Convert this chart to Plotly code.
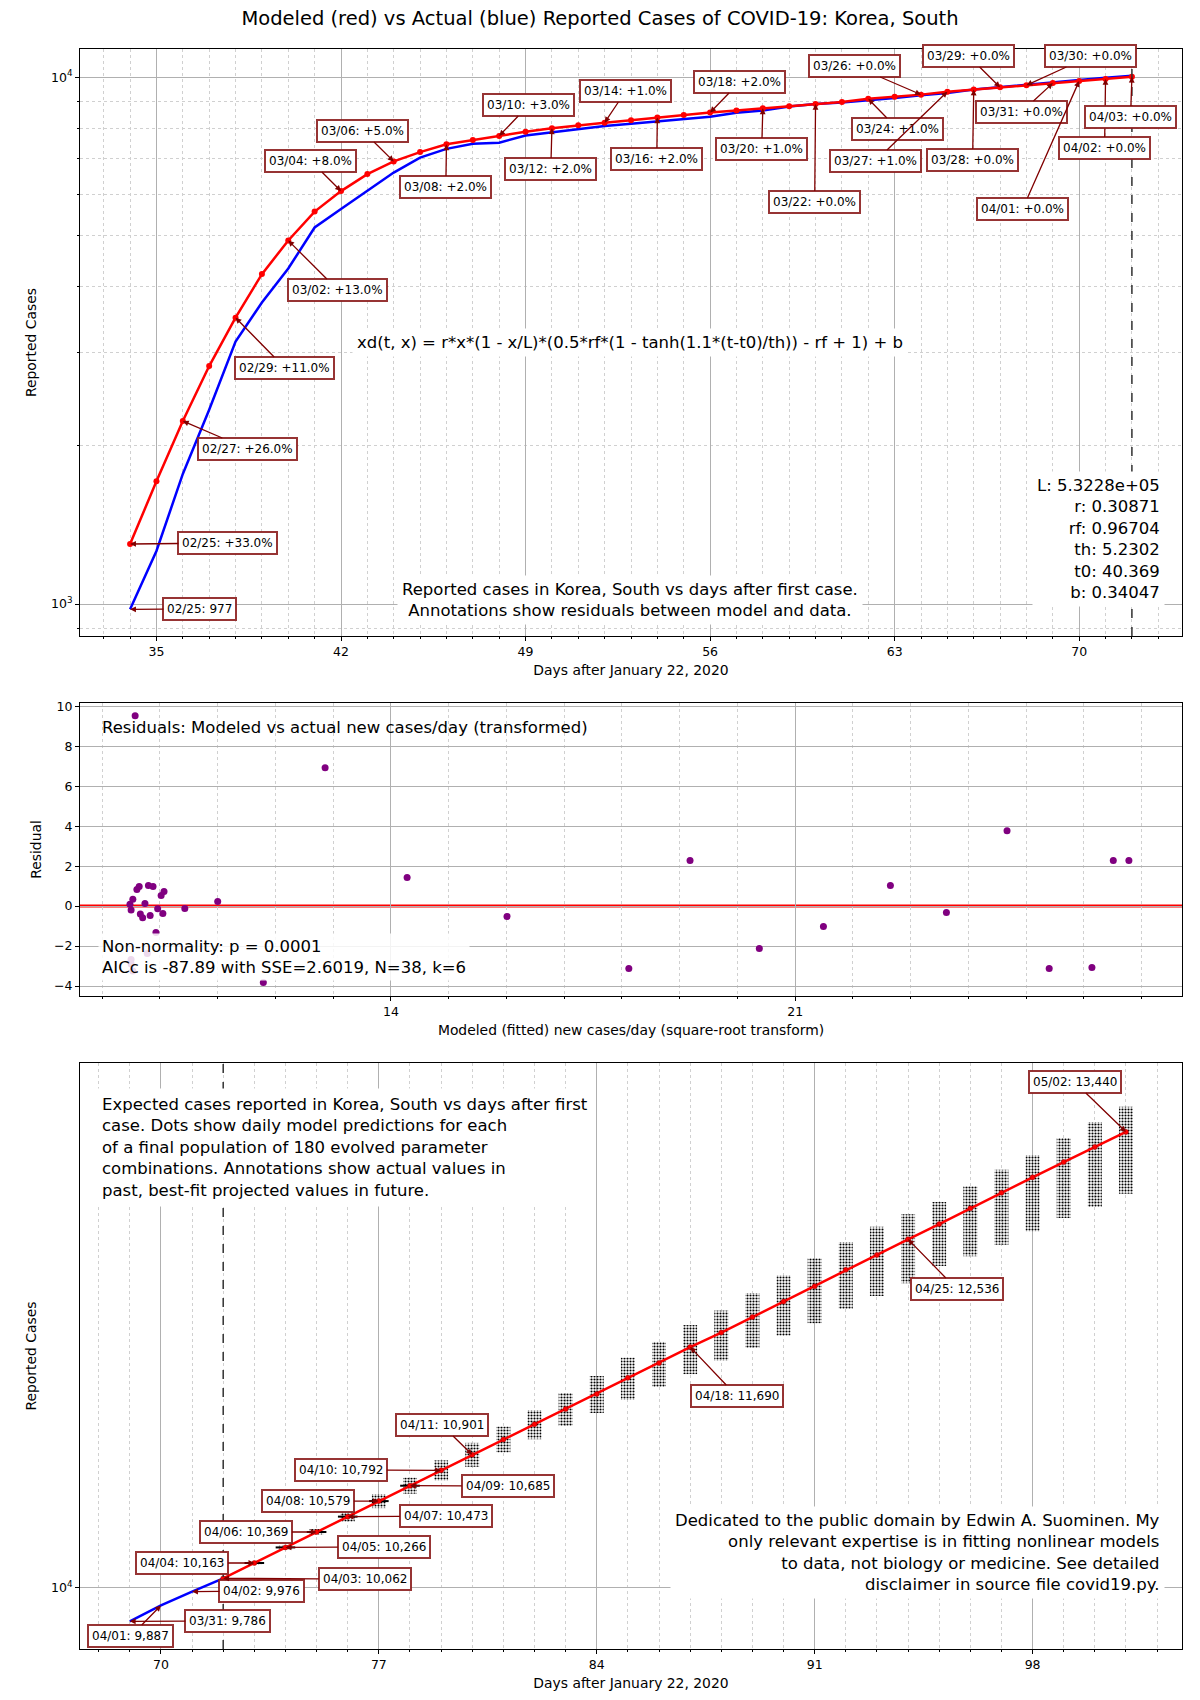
import numpy as np
import plotly.graph_objects as go

# ---------------- data ----------------
fit_days = list(range(34, 73))  # days after Jan 22, 2020 (02/25 .. 04/03)
actual_cases = [977, 1261, 1766, 2337, 3150, 3736, 4335, 5186, 5621, 6088,
                6593, 7041, 7314, 7478, 7513, 7755, 7869, 7979, 8086, 8162,
                8236, 8320, 8413, 8565, 8652, 8799, 8897, 8961, 9037, 9137,
                9241, 9332, 9478, 9583, 9661, 9786, 9887, 9976, 10062]
modeled_cases = [1300, 1710, 2225, 2830, 3497, 4230, 4899, 5560, 6080, 6550,
                 6923, 7210, 7460, 7600, 7740, 7880, 8000, 8110, 8200, 8290,
                 8390, 8480, 8570, 8650, 8730, 8810, 8900, 8980, 9100, 9180,
                 9270, 9390, 9480, 9570, 9660, 9750, 9840, 9930, 10020]

# top-chart annotations: day, which series ('a' actual / 'm' model), text
top_ann_days = [34, 34, 36, 38, 40, 42, 44, 46, 48, 50, 52, 54, 56, 58, 60,
                62, 64, 65, 66, 67, 68, 69, 70, 71, 72]
top_ann_series = ['a'] + ['m'] * 24
top_ann_text = ["02/25: 977", "02/25: +33.0%", "02/27: +26.0%", "02/29: +11.0%",
                "03/02: +13.0%", "03/04: +8.0%", "03/06: +5.0%", "03/08: +2.0%",
                "03/10: +3.0%", "03/12: +2.0%", "03/14: +1.0%", "03/16: +2.0%",
                "03/18: +2.0%", "03/20: +1.0%", "03/22: +0.0%", "03/24: +1.0%",
                "03/26: +0.0%", "03/27: +1.0%", "03/28: +0.0%", "03/29: +0.0%",
                "03/30: +0.0%", "03/31: +0.0%", "04/01: +0.0%", "04/02: +0.0%",
                "04/03: +0.0%"]

# residuals (middle chart)
res_x = [9.57, 12.86, 14.28, 16.01, 11.79, 11.00, 10.43, 9.48, 9.53, 9.50,
         9.60, 9.64, 9.80, 9.88, 9.74, 9.66, 9.70, 9.83, 9.96, 10.05,
         10.02, 10.07, 9.93, 9.78, 9.50, 9.50, 9.53, 18.12, 19.18, 20.38,
         21.49, 22.65, 23.62, 24.67, 25.40, 26.14, 26.51, 26.78]
res_y = [9.53, 6.93, 1.43, -0.52, -3.82, 0.23, -0.12, 0.10, 0.35, -0.20,
         0.83, 0.98, 1.03, 0.98, 0.13, -0.40, -0.58, -0.47, -0.13, -0.37,
         0.53, 0.73, -1.32, -2.37, -2.67, -2.90, -3.25, -3.12, 2.28, -2.12,
         -1.02, 1.03, -0.32, 3.78, -3.12, -3.07, 2.28, 2.28]

# projection (bottom chart)
past_days = [69, 70, 71, 72]
past_cases = [9786, 9887, 9976, 10062]
proj_days = list(range(72, 102))
proj_cases = [10062, 10163, 10266, 10369, 10473, 10579, 10685, 10792, 10901, 11010,
              11120, 11230, 11340, 11460, 11570, 11690, 11800, 11920, 12040, 12160,
              12290, 12410, 12536, 12660, 12790, 12920, 13050, 13180, 13310, 13440]
cloud_days = list(range(73, 102))
cloud_lo = [10153, 10253, 10349, 10439, 10531, 10630, 10722, 10817, 10918, 11012,
            11107, 11201, 11298, 11391, 11487, 11588, 11683, 11777, 11872, 11983,
            12084, 12184, 12320, 12398, 12492, 12601, 12710, 12802, 12911]
cloud_hi = [10173, 10279, 10389, 10507, 10627, 10741, 10862, 10986, 11103, 11221,
            11347, 11473, 11610, 11729, 11858, 11970, 12107, 12245, 12383, 12515,
            12638, 12741, 12842, 12974, 13114, 13238, 13387, 13527, 13660]

bot_ann_days = [70, 69, 71, 72, 73, 74, 75, 76, 77, 78, 79, 80, 87, 94, 101]
bot_ann_text = ["04/01: 9,887", "03/31: 9,786", "04/02: 9,976", "04/03: 10,062",
                "04/04: 10,163", "04/05: 10,266", "04/06: 10,369", "04/07: 10,473",
                "04/08: 10,579", "04/09: 10,685", "04/10: 10,792", "04/11: 10,901",
                "04/18: 11,690", "04/25: 12,536", "05/02: 13,440"]

# ---------------- layout geometry ----------------
W, H = 1200, 1700
LM, RM, TM, BM = 80, 17.5, 49, 51
PW, PH = W - LM - RM, H - TM - BM
FONT = "DejaVu Sans"

def dom(top_px, bot_px):
    return [(H - BM - bot_px) / PH, (H - BM - top_px) / PH]

TOP = (49, 636); MID = (703, 996); BOT = (1063, 1649)
x1r = [32.1, 73.9]; y1r = [2.9393, 4.0537]
x2r = [8.615, 27.70]; y2r = [-4.5, 10.17]
x3r = [67.4, 102.8]; y3r = [3.9828, 4.1478]

def pxx(d, rng):
    return LM + (d - rng[0]) / (rng[1] - rng[0]) * PW

def pyl(v, rng, box):
    return box[1] - (np.log10(v) - rng[0]) / (rng[1] - rng[0]) * (box[1] - box[0])

fig = go.Figure()

# top chart traces
fig.add_trace(go.Scatter(x=fit_days, y=actual_cases, mode="lines",
                         line=dict(color="blue", width=2.5), xaxis="x", yaxis="y",
                         hoverinfo="skip"))
fig.add_trace(go.Scatter(x=fit_days, y=modeled_cases, mode="lines+markers",
                         line=dict(color="red", width=2.5), marker=dict(color="red", size=6),
                         xaxis="x", yaxis="y", hoverinfo="skip"))

# middle chart
fig.add_trace(go.Scatter(x=res_x, y=res_y, mode="markers",
                         marker=dict(color="purple", size=7), xaxis="x2", yaxis="y2",
                         hoverinfo="skip"))

# bottom chart: spread of the 180 model predictions per day (dotted clouds)
fig.add_trace(go.Bar(x=cloud_days, base=cloud_lo,
                     y=[h - l for h, l in zip(cloud_hi, cloud_lo)],
                     width=0.45, xaxis="x3", yaxis="y3", hoverinfo="skip",
                     marker=dict(color="black", line=dict(width=0),
                                 pattern=dict(shape=".", size=3, solidity=0.4,
                                              fillmode="replace"))))
# compact clouds (tiny vertical spread) appear as short horizontal dashes
compact = [(d, v) for d, v, l, h in zip(cloud_days, proj_cases[1:], cloud_lo, cloud_hi)
           if h / l < 1.012]
fig.add_trace(go.Scatter(x=[c[0] for c in compact], y=[c[1] for c in compact],
                         mode="markers",
                         marker=dict(symbol="line-ew", size=14, color="black",
                                     line=dict(color="black", width=2)),
                         xaxis="x3", yaxis="y3", hoverinfo="skip"))
fig.add_trace(go.Scatter(x=past_days, y=past_cases, mode="lines",
                         line=dict(color="blue", width=2.5), xaxis="x3", yaxis="y3",
                         hoverinfo="skip"))
fig.add_trace(go.Scatter(x=proj_days, y=proj_cases, mode="lines+markers",
                         line=dict(color="red", width=2.5),
                         marker=dict(color="red", size=5, line=dict(color="darkred", width=0.5)),
                         xaxis="x3", yaxis="y3", hoverinfo="skip"))

# ---------------- axes ----------------
grid_major = dict(showgrid=True, gridcolor="#b0b0b0", gridwidth=1)
axis_common = dict(showline=True, linecolor="black", linewidth=1, mirror=True,
                   ticks="outside", ticklen=4, tickcolor="black", zeroline=False,
                   tickfont=dict(family=FONT, size=12.5, color="black"))
minor_x = dict(dtick=1, tick0=0, ticks="outside", ticklen=2, tickcolor="black",
               showgrid=True, gridcolor="#d0d0d0", griddash="dot", gridwidth=1)
title_font = dict(family=FONT, size=13.9, color="black")

fig.update_layout(
    xaxis=dict(domain=[0, 1], anchor="y", range=x1r, dtick=7, tick0=0,
               minor=minor_x, title=dict(text="Days after January 22, 2020",
                                         font=title_font, standoff=7),
               **grid_major, **axis_common),
    yaxis=dict(domain=dom(*TOP), anchor="x", type="log", range=y1r,
               tickvals=[1000, 10000], ticktext=["10<sup>3</sup>", "10<sup>4</sup>"],
               minor=dict(tickvals=[900, 2000, 3000, 4000, 5000, 6000, 7000, 8000, 9000],
                          ticks="outside", ticklen=2, tickcolor="black", showgrid=True,
                          gridcolor="#d0d0d0", griddash="dot", gridwidth=1),
               title=dict(text="Reported Cases", font=title_font, standoff=11),
               **grid_major, **axis_common),
    xaxis2=dict(domain=[0, 1], anchor="y2", range=x2r, dtick=7, tick0=0,
                minor=minor_x,
                title=dict(text="Modeled (fitted) new cases/day (square-root transform)",
                           font=title_font, standoff=7),
                **grid_major, **axis_common),
    yaxis2=dict(domain=dom(*MID), anchor="x2", range=y2r, dtick=2, tick0=0,
                title=dict(text="Residual", font=title_font, standoff=9),
                **grid_major, **axis_common),
    xaxis3=dict(domain=[0, 1], anchor="y3", range=x3r, dtick=7, tick0=0,
                minor=minor_x, title=dict(text="Days after January 22, 2020",
                                          font=title_font, standoff=7),
                **grid_major, **axis_common),
    yaxis3=dict(domain=dom(*BOT), anchor="x3", type="log", range=y3r,
                tickvals=[10000], ticktext=["10<sup>4</sup>"],
                title=dict(text="Reported Cases", font=title_font, standoff=11),
                **grid_major, **axis_common),
)

# ---------------- shapes ----------------
shapes = [
    dict(type="line", xref="x", yref="y domain", x0=72, x1=72, y0=0, y1=1,
         line=dict(color="#333333", width=1.5, dash="dash"), layer="above"),
    dict(type="line", xref="x3", yref="y3 domain", x0=72, x1=72, y0=0, y1=1,
         line=dict(color="#333333", width=1.5, dash="dash"), layer="above"),
    dict(type="line", xref="x2 domain", yref="y2", x0=0, x1=1, y0=0, y1=0,
         line=dict(color="red", width=3), layer="below"),
]

# ---------------- annotations ----------------
anns = []
box_style = dict(bgcolor="white", bordercolor="rgba(140,30,30,0.9)", borderwidth=2,
                 borderpad=3, font=dict(family=FONT, size=12, color="black"),
                 showarrow=True, arrowhead=2, arrowsize=0.9, arrowwidth=1.3,
                 arrowcolor="#800000")

top_label_px = [(200, 609), (228, 543), (248, 449), (285, 368), (338, 290),
                (311, 161), (363, 131), (446, 187), (529, 105), (551, 169),
                (626, 91), (657, 159), (740, 82), (762, 149), (815, 202),
                (898, 129), (855, 66), (876, 161), (973, 160), (969, 56),
                (1091, 56), (1022, 112), (1023, 209), (1105, 148), (1131, 117)]
for d, s, t, (cx, cy) in zip(top_ann_days, top_ann_series, top_ann_text, top_label_px):
    i = fit_days.index(d)
    v = actual_cases[i] if s == "a" else modeled_cases[i]
    tx, ty = pxx(d, x1r), pyl(v, y1r, TOP)
    anns.append(dict(x=d, y=np.log10(v), xref="x", yref="y", text=t,
                     ax=cx - tx, ay=cy - ty, **box_style))

bot_label_px = [(131, 1636), (228, 1621), (262, 1591), (365, 1579), (182, 1563),
                (384, 1547), (246, 1532), (446, 1516), (308, 1501), (508, 1486),
                (341, 1470), (442, 1425), (737, 1396), (957, 1289), (1075, 1082)]
for d, t, (cx, cy) in zip(bot_ann_days, bot_ann_text, bot_label_px):
    v = past_cases[past_days.index(d)] if d < 72 else proj_cases[proj_days.index(d)]
    tx, ty = pxx(d, x3r), pyl(v, y3r, BOT)
    anns.append(dict(x=d, y=np.log10(v), xref="x3", yref="y3", text=t,
                     ax=cx - tx, ay=cy - ty, **box_style))

big = dict(family=FONT, size=16.5, color="black")

def paper_xy(px_x, px_y):
    return (px_x - LM) / PW, (H - BM - px_y) / PH

x, y = paper_xy(630, 342)
anns.append(dict(x=x, y=y, xref="paper", yref="paper", showarrow=False,
                 text="xd(t, x) = r*x*(1 - x/L)*(0.5*rf*(1 - tanh(1.1*(t-t0)/th)) - rf + 1) + b",
                 font=big, bgcolor="white", borderpad=4, xanchor="center", yanchor="middle"))
x, y = paper_xy(630, 600)
anns.append(dict(x=x, y=y, xref="paper", yref="paper", showarrow=False,
                 text="Reported cases in Korea, South vs days after first case.<br>"
                      "Annotations show residuals between model and data.",
                 font=big, bgcolor="white", borderpad=4, align="center",
                 xanchor="center", yanchor="middle"))
x, y = paper_xy(1165, 539)
anns.append(dict(x=x, y=y, xref="paper", yref="paper", showarrow=False,
                 text="L: 5.3228e+05<br>r: 0.30871<br>rf: 0.96704<br>th: 5.2302<br>"
                      "t0: 40.369<br>b: 0.34047",
                 font=big, bgcolor="white", borderpad=4, align="right",
                 xanchor="right", yanchor="middle"))
x, y = paper_xy(100, 728)
anns.append(dict(x=x, y=y, xref="paper", yref="paper", showarrow=False,
                 text="Residuals: Modeled vs actual new cases/day (transformed)",
                 font=big, xanchor="left", yanchor="middle"))
x, y = paper_xy(98, 957)
anns.append(dict(x=x, y=y, xref="paper", yref="paper", showarrow=False,
                 text="Non-normality: p = 0.0001<br>AICc is -87.89 with SSE=2.6019, N=38, k=6",
                 font=big, bgcolor="rgba(255,255,255,0.85)", borderpad=3, align="left",
                 xanchor="left", yanchor="middle"))
x, y = paper_xy(95, 1147)
anns.append(dict(x=x, y=y, xref="paper", yref="paper", showarrow=False,
                 text="Expected cases reported in Korea, South vs days after first<br>"
                      "case. Dots show daily model predictions for each<br>"
                      "of a final population of 180 evolved parameter<br>"
                      "combinations. Annotations show actual values in<br>"
                      "past, best-fit projected values in future.",
                 font=big, bgcolor="white", borderpad=6, align="left",
                 xanchor="left", yanchor="middle"))
x, y = paper_xy(1165, 1552)
anns.append(dict(x=x, y=y, xref="paper", yref="paper", showarrow=False,
                 text="Dedicated to the public domain by Edwin A. Suominen. My<br>"
                      "only relevant expertise is in fitting nonlinear models<br>"
                      "to data, not biology or medicine. See detailed<br>"
                      "disclaimer in source file covid19.py.",
                 font=big, bgcolor="white", borderpad=4, align="right",
                 xanchor="right", yanchor="middle"))

fig.update_layout(
    width=W, height=H, autosize=False,
    margin=dict(l=LM, r=RM, t=TM, b=BM),
    paper_bgcolor="white", plot_bgcolor="white",
    showlegend=False, barmode="overlay",
    font=dict(family=FONT, size=12.5, color="black"),
    title=dict(text="Modeled (red) vs Actual (blue) Reported Cases of COVID-19: Korea, South",
               x=0.5, xanchor="center", y=1 - 18 / H, yanchor="middle", yref="container",
               font=dict(family=FONT, size=19.5, color="black")),
    shapes=shapes, annotations=anns,
)

fig.write_html("out.html")
